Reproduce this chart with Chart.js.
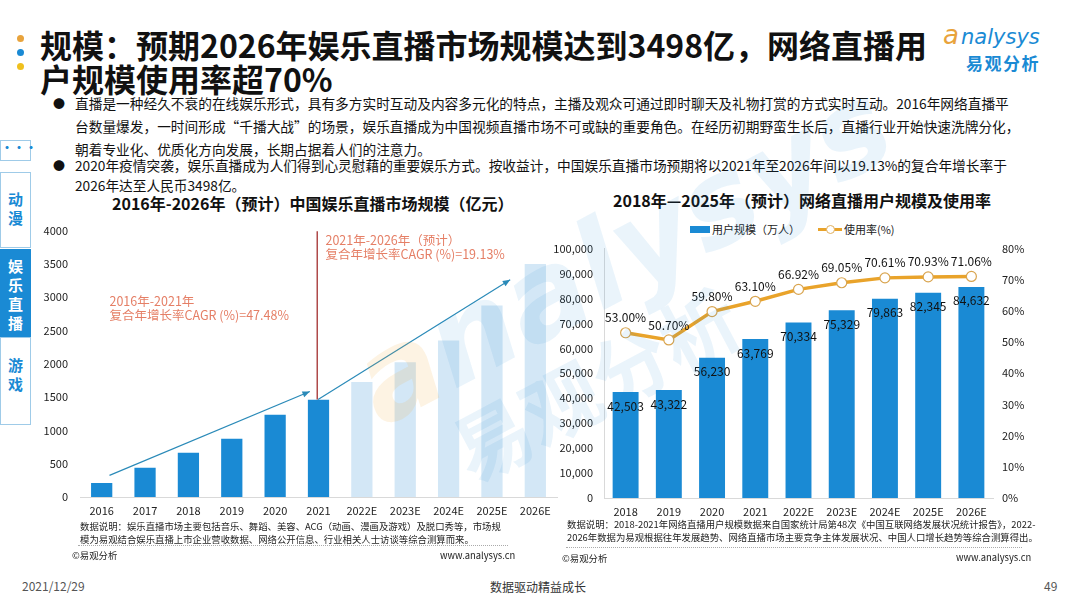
<!DOCTYPE html>
<html>
<head>
<meta charset="utf-8">
<script src="https://cdn.jsdelivr.net/npm/chart.js@4"></script>
<style>
  body { margin: 0; width: 1080px; height: 608px; background: #fff; position: relative; overflow: hidden;
         font-family: "Noto Sans CJK SC", "Noto Sans", sans-serif; color: #111; }
  .abs { position: absolute; white-space: nowrap; }
  .dot { position: absolute; width: 7px; height: 7px; border-radius: 50%; }
  .title { font-size: 32px; font-weight: bold; line-height: 34px; left: 40px; }
  .para { font-size: 13.7px; left: 75px; line-height: 16px; }
  .bullet { font-size: 12px; left: 53px; }
  .tab { position: absolute; left: 0; width: 31px; border: 1px solid #9fcbe8; background: #fff; color: #1a8ad4;
         font-size: 15px; font-weight: bold; text-align: center; line-height: 19px; box-sizing: border-box; }
  .ctitle { font-size: 16px; font-weight: bold; }
  .note { font-size: 9.4px; color: #222; line-height: 12.5px; }
  .dotline { position: absolute; height: 0; border-top: 1px dotted #aaa; }
  .wm { position: absolute; font-weight: bold; color: rgba(26,138,212,0.09); transform-origin: left top; }
</style>
</head>
<body>
<script>
// left chart: market size (亿元)
const marketYears = ['2016', '2017', '2018', '2019', '2020', '2021', '2022E', '2023E', '2024E', '2025E', '2026E'];
const marketSize = [212, 441, 666, 876, 1236, 1461, 1725, 2025, 2350, 2875, 3498];
const marketTicks = [0, 500, 1000, 1500, 2000, 2500, 3000, 3500, 4000];

// right chart: users (万人) and usage rate (%)
const userYears = ['2018', '2019', '2020', '2021', '2022E', '2023E', '2024E', '2025E', '2026E'];
const userScale = [42503, 43322, 56230, 63769, 70334, 75329, 79863, 82345, 84632];
const usageRate = [53.00, 50.70, 59.80, 63.10, 66.92, 69.05, 70.61, 70.93, 71.06];
</script>

<div class="dot" style="left:17px;top:35px;background:#e8a33c"></div>
<div class="dot" style="left:17px;top:49px;background:#1a8ad4"></div>
<div class="dot" style="left:17px;top:63px;background:#efc01e"></div>
<div class="abs title" style="top:27px">规模：预期2026年娱乐直播市场规模达到3498亿，网络直播用</div>
<div class="abs title" style="top:61px">户规模使用率超70%</div>

<div class="abs" style="left:943px;top:20px;font-size:26px;font-style:italic;color:#e8a33c;font-family:'DejaVu Sans'">a</div>
<div class="abs" style="left:961px;top:25px;font-size:21px;font-style:italic;color:#1a8ad4;font-family:'DejaVu Sans'">nalysys</div>
<div class="abs" style="left:966px;top:50px;font-size:17px;font-weight:bold;color:#1a8ad4;letter-spacing:1.5px">易观分析</div>

<div class="abs bullet" style="top:95px">●</div>
<div class="abs para" style="top:95px">直播是一种经久不衰的在线娱乐形式，具有多方实时互动及内容多元化的特点，主播及观众可通过即时聊天及礼物打赏的方式实时互动。2016年网络直播平</div>
<div class="abs para" style="top:118px">台数量爆发，一时间形成“千播大战”的场景，娱乐直播成为中国视频直播市场不可或缺的重要角色。在经历初期野蛮生长后，直播行业开始快速洗牌分化，</div>
<div class="abs para" style="top:141px">朝着专业化、优质化方向发展，长期占据着人们的注意力。</div>
<div class="abs bullet" style="top:157px">●</div>
<div class="abs para" style="top:157px">2020年疫情突袭，娱乐直播成为人们得到心灵慰藉的重要娱乐方式。按收益计，中国娱乐直播市场预期将以2021年至2026年间以19.13%的复合年增长率于</div>
<div class="abs para" style="top:177px">2026年达至人民币3498亿。</div>

<div class="tab" style="top:140px;height:21px;line-height:14px;font-size:12px">···</div>
<div class="tab" style="top:172px;height:76px;padding-top:16px">动<br>漫</div>
<div class="tab" style="top:249px;height:88px;padding-top:6px;background:#1a8ad4;color:#fff;border-color:#1a8ad4">娱<br>乐<br>直<br>播</div>
<div class="tab" style="top:337px;height:88px;padding-top:17px">游<br>戏</div>

<div class="abs ctitle" style="left:112px;top:191px">2016年-2026年（预计）中国娱乐直播市场规模（亿元）</div>
<div class="abs ctitle" style="left:613px;top:188px">2018年—2025年（预计）网络直播用户规模及使用率</div>

<div class="abs" style="left:690px;top:226px;width:20px;height:7px;background:#1a8ad4"></div>
<div class="abs" style="left:712px;top:221px;font-size:11px;color:#222">用户规模（万人）</div>
<div class="abs" style="left:818px;top:228px;width:24px;height:3px;background:#e9a32a"></div>
<div class="abs" style="left:826px;top:225px;width:7px;height:7px;border-radius:50%;background:#fff;border:1px solid #e0b060"></div>
<div class="abs" style="left:844px;top:221px;font-size:11px;color:#222">使用率(%)</div>

<div class="abs" style="left:40px;top:212px;width:520px;height:309px"><canvas id="leftChart"></canvas></div>
<div class="abs" style="left:545px;top:231px;width:488px;height:291px"><canvas id="rightChart"></canvas></div>

<div class="wm" style="left:330px;top:330px;font-size:120px;font-style:italic;transform:rotate(-28deg);font-family:'DejaVu Sans'"><span style="color:rgba(240,170,60,0.14)">a</span>nalysys</div>
<div class="wm" style="left:430px;top:405px;font-size:78px;transform:rotate(-28deg)">易观分析</div>

<div class="abs note" style="left:80px;top:520px">数据说明：娱乐直播市场主要包括音乐、舞蹈、美容、ACG（动画、漫画及游戏）及脱口秀等，市场规<br>模为易观结合娱乐直播上市企业营收数据、网络公开信息、行业相关人士访谈等综合测算而来。</div>
<div class="dotline" style="left:78px;top:545px;width:430px"></div>
<div class="abs note" style="left:72px;top:549px">©易观分析</div>
<div class="abs note" style="left:440px;top:549px;width:68px;text-align:right">www.analysys.cn</div>

<div class="abs note" style="left:567px;top:518px">数据说明：2018-2021年网络直播用户规模数据来自国家统计局第48次《中国互联网络发展状况统计报告》，2022-<br>2026年数据为易观根据往年发展趋势、网络直播市场主要竞争主体发展状况、中国人口增长趋势等综合测算得出。</div>
<div class="dotline" style="left:566px;top:547px;width:456px"></div>
<div class="abs note" style="left:562px;top:552px">©易观分析</div>
<div class="abs note" style="left:956px;top:551px;width:68px;text-align:right">www.analysys.cn</div>

<div class="abs" style="left:22px;top:577px;font-size:12px;color:#555">2021/12/29</div>
<div class="abs" style="left:490px;top:578px;font-size:12px;color:#333">数据驱动精益成长</div>
<div class="abs" style="left:1044px;top:577px;font-size:12px;color:#555">49</div>

<script>
Chart.defaults.font.family = '"Noto Sans CJK SC", "Noto Sans", sans-serif';
Chart.defaults.animation = false;

const blue = '#1a8ad4';
const lightBlue = '#d3e7f6';
const orange = '#e9a32a';

function arrow(ctx, x1, y1, x2, y2, color) {
  ctx.strokeStyle = color;
  ctx.fillStyle = color;
  ctx.lineWidth = 1.2;
  ctx.beginPath(); ctx.moveTo(x1, y1); ctx.lineTo(x2, y2); ctx.stroke();
  const a = Math.atan2(y2 - y1, x2 - x1);
  ctx.beginPath();
  ctx.moveTo(x2, y2);
  ctx.lineTo(x2 - 8 * Math.cos(a - 0.4), y2 - 8 * Math.sin(a - 0.4));
  ctx.lineTo(x2 - 8 * Math.cos(a + 0.4), y2 - 8 * Math.sin(a + 0.4));
  ctx.closePath(); ctx.fill();
}

// CAGR arrows and notes, placed with the chart scales
const cagrNotes = {
  id: 'cagrNotes',
  afterDatasetsDraw(chart) {
    const ctx = chart.ctx, x = chart.scales.x, y = chart.scales.y;
    ctx.save();
    arrow(ctx, x.getPixelForValue(0.18), y.getPixelForValue(325), x.getPixelForValue(4.8), y.getPixelForValue(1585), '#2a8ab8');
    arrow(ctx, x.getPixelForValue(4.99), y.getPixelForValue(1465), x.getPixelForValue(9.42), y.getPixelForValue(3261), '#2a8ab8');
    ctx.strokeStyle = '#9b1c1c';
    ctx.lineWidth = 1.2;
    ctx.beginPath();
    ctx.moveTo(x.getPixelForValue(4.97), y.getPixelForValue(1465));
    ctx.lineTo(x.getPixelForValue(4.97), y.getPixelForValue(3990));
    ctx.stroke();
    ctx.fillStyle = '#e57f66';
    ctx.font = '12.5px "Noto Sans CJK SC"';
    ctx.textBaseline = 'middle';
    ctx.fillText('2016年-2021年', x.getPixelForValue(0.18), y.getPixelForValue(2940));
    ctx.fillText('复合年增长率CAGR (%)=47.48%', x.getPixelForValue(0.18), y.getPixelForValue(2730));
    ctx.fillText('2021年-2026年（预计）', x.getPixelForValue(5.16), y.getPixelForValue(3860));
    ctx.fillText('复合年增长率CAGR (%)=19.13%', x.getPixelForValue(5.16), y.getPixelForValue(3650));
    ctx.restore();
  }
};

new Chart(document.getElementById('leftChart'), {
  type: 'bar',
  data: {
    labels: marketYears,
    datasets: [{
      data: marketSize,
      backgroundColor: marketYears.map(function(y) { return y.indexOf('E') > 0 ? lightBlue : blue; }),
      categoryPercentage: 1,
      barPercentage: 0.49
    }]
  },
  options: {
    responsive: true,
    maintainAspectRatio: false,
    layout: { padding: { top: 0, right: 3 } },
    plugins: { legend: { display: false }, tooltip: { enabled: false } },
    scales: {
      x: {
        grid: { display: false, drawTicks: false },
        border: { color: '#d9d9d9' },
        ticks: { color: '#222', font: { size: 11 }, padding: 7 },
        afterFit: function(s) { s.height = 24; }
      },
      y: {
        min: 0, max: 4000,
        afterBuildTicks: function(s) { s.ticks = marketTicks.map(function(v) { return { value: v }; }); },
        grid: { display: false, drawTicks: false },
        border: { display: false },
        ticks: { color: '#222', font: { size: 11 }, padding: 12,
                 callback: function(v) { return String(v); } },
        afterFit: function(s) { s.width = 40; }
      }
    }
  },
  plugins: [cagrNotes]
});

// value labels for bars and line points
const valueLabels = {
  id: 'valueLabels',
  afterDatasetsDraw(chart) {
    const ctx = chart.ctx;
    ctx.save();
    ctx.fillStyle = '#111';
    ctx.textAlign = 'center';
    ctx.textBaseline = 'middle';
    const bars = chart.getDatasetMeta(1).data;
    ctx.font = '12px "Noto Sans CJK SC"';
    bars.forEach(function(b, i) {
      ctx.fillText(userScale[i].toLocaleString('en-US'), b.x, b.y + 14);
    });
    const pts = chart.getDatasetMeta(0).data;
    pts.forEach(function(p, i) {
      ctx.fillText(usageRate[i].toFixed(2) + '%', p.x, p.y - 15);
    });
    ctx.restore();
  }
};

new Chart(document.getElementById('rightChart'), {
  data: {
    labels: userYears,
    datasets: [{
      type: 'line',
      data: usageRate,
      yAxisID: 'y1',
      borderColor: orange,
      borderWidth: 3.5,
      pointRadius: 5,
      pointBackgroundColor: '#fff',
      pointBorderColor: '#d9a550',
      pointBorderWidth: 1.2,
      tension: 0
    }, {
      type: 'bar',
      data: userScale,
      yAxisID: 'y',
      backgroundColor: blue,
      categoryPercentage: 1,
      barPercentage: 0.6
    }]
  },
  options: {
    responsive: true,
    maintainAspectRatio: false,
    layout: { padding: { top: 0 } },
    plugins: { legend: { display: false }, tooltip: { enabled: false } },
    scales: {
      x: {
        grid: { display: false, drawTicks: false },
        border: { color: '#d9d9d9' },
        ticks: { color: '#222', font: { size: 11 }, padding: 7 },
        afterFit: function(s) { s.height = 24; }
      },
      y: {
        position: 'left',
        min: 0, max: 100000,
        grid: { display: false, drawTicks: false },
        border: { color: '#d9d9d9' },
        ticks: { stepSize: 10000, color: '#222', font: { size: 11 }, padding: 11,
                 callback: function(v) { return v.toLocaleString('en-US'); } },
        afterFit: function(s) { s.width = 59; }
      },
      y1: {
        position: 'right',
        min: 0, max: 80,
        grid: { display: false, drawTicks: false },
        border: { display: false },
        ticks: { stepSize: 10, color: '#222', font: { size: 11 }, padding: 9,
                 callback: function(v) { return v + '%'; } },
        afterFit: function(s) { s.width = 40; }
      }
    }
  },
  plugins: [valueLabels]
});
</script>
</body>
</html>
